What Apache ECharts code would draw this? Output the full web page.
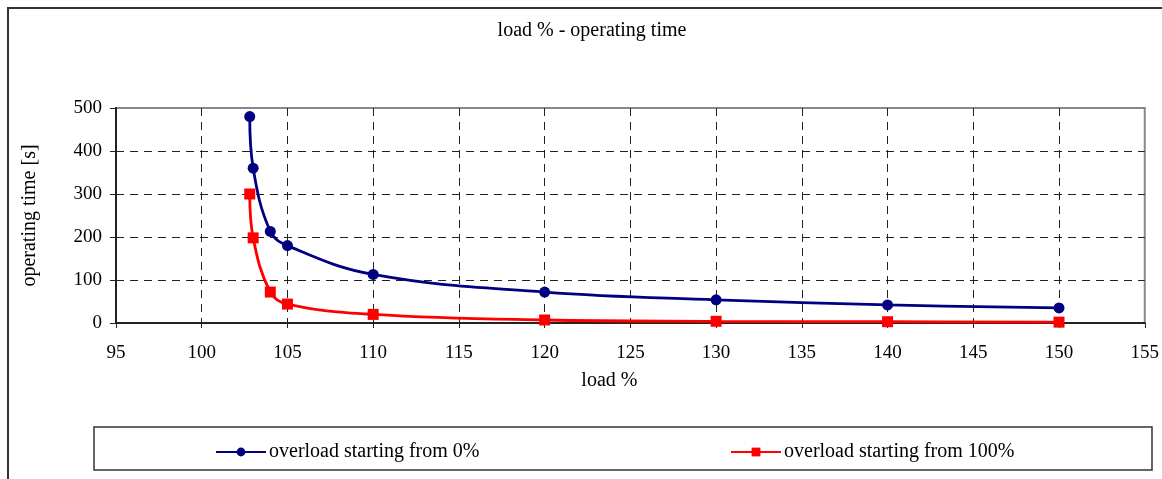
<!DOCTYPE html>
<html><head><meta charset="utf-8">
<script src="https://cdn.jsdelivr.net/npm/echarts@6/dist/echarts.min.js"></script>
<style>html,body{margin:0;padding:0;background:#fff}#c{width:1162px;height:479px}</style>
</head><body><div id="c"></div>
<script>
const titleText = 'load % - operating time';
const xName = 'load %';
const yName = 'operating time [s]';
const series1Name = 'overload starting from 0%';
const series2Name = 'overload starting from 100%';
const loadBlue = [102.8, 103, 104, 105, 110, 120, 130, 140, 150];
const timeBlue = [480, 360, 213, 180, 113, 72, 54, 42, 35];
const loadRed = [102.8, 103, 104, 105, 110, 120, 130, 140, 150];
const timeRed = [300, 198, 72, 44, 20, 7, 4, 3, 2];

const font = 'Liberation Serif';
const chart = echarts.init(document.getElementById('c'));
chart.setOption({
  animation: false,
  backgroundColor: '#fff',
  title: { text: titleText, left: 587, top: 16, textAlign: 'center',
    textStyle: { fontFamily: font, fontSize: 20, fontWeight: 'normal', color: '#000' } },
  graphic: [
    { type: 'rect', shape: { x: 8, y: 8, width: 1170, height: 490 }, style: { fill: 'none', stroke: '#333', lineWidth: 2 } },
    { type: 'rect', shape: { x: 94, y: 427, width: 1058, height: 43 }, style: { fill: 'none', stroke: '#333', lineWidth: 1.5 } }
  ],
  legend: [
    { data: [series1Name], left: 210, top: 437, itemWidth: 50, itemHeight: 11, itemGap: 0,
      textStyle: { fontFamily: font, fontSize: 20, color: '#000', padding: [0,0,0,-2] } },
    { data: [series2Name], left: 725, top: 437, itemWidth: 50, itemHeight: 11, itemGap: 0,
      textStyle: { fontFamily: font, fontSize: 20, color: '#000', padding: [0,0,0,-2] } }
  ],
  grid: { left: 116, right: 17, top: 108, bottom: 156, show: true, borderColor: '#888', borderWidth: 2 },
  xAxis: {
    type: 'value', min: 95, max: 155, interval: 5,
    name: xName, nameLocation: 'middle', nameGap: 48,
    nameTextStyle: { fontFamily: font, fontSize: 20, color: '#000', padding: [0, 42, 0, 0] },
    axisLine: { show: true, lineStyle: { color: '#222', width: 2 } },
    axisTick: { show: true, length: 5, lineStyle: { color: '#222' } },
    axisLabel: { fontFamily: font, fontSize: 19, color: '#000', margin: 21 },
    splitLine: { show: true, showMinLine: false, showMaxLine: false, lineStyle: { color: '#222', type: [8, 6], width: 1 } }
  },
  yAxis: {
    type: 'value', min: 0, max: 500, interval: 100,
    name: yName, nameLocation: 'middle', nameGap: 76, nameRotate: 90,
    nameTextStyle: { fontFamily: font, fontSize: 20, color: '#000' },
    axisLine: { show: true, lineStyle: { color: '#222', width: 2 } },
    axisTick: { show: true, length: 6, lineStyle: { color: '#222' } },
    axisLabel: { fontFamily: font, fontSize: 19, color: '#000', margin: 14 },
    splitLine: { show: true, showMinLine: false, showMaxLine: false, lineStyle: { color: '#222', type: [8, 6], width: 1 } }
  },
  series: [
    { name: series1Name, type: 'line', smooth: 0.4,
      data: loadBlue.map((x, i) => [x, timeBlue[i]]),
      symbol: 'circle', symbolSize: 11, lineStyle: { color: '#000080', width: 2.8 },
      itemStyle: { color: '#000080' } },
    { name: series2Name, type: 'line', smooth: 0.4,
      data: loadRed.map((x, i) => [x, timeRed[i]]),
      symbol: 'rect', symbolSize: 11, lineStyle: { color: '#ff0000', width: 2.8 },
      itemStyle: { color: '#ff0000' } }
  ]
});
</script></body></html>
